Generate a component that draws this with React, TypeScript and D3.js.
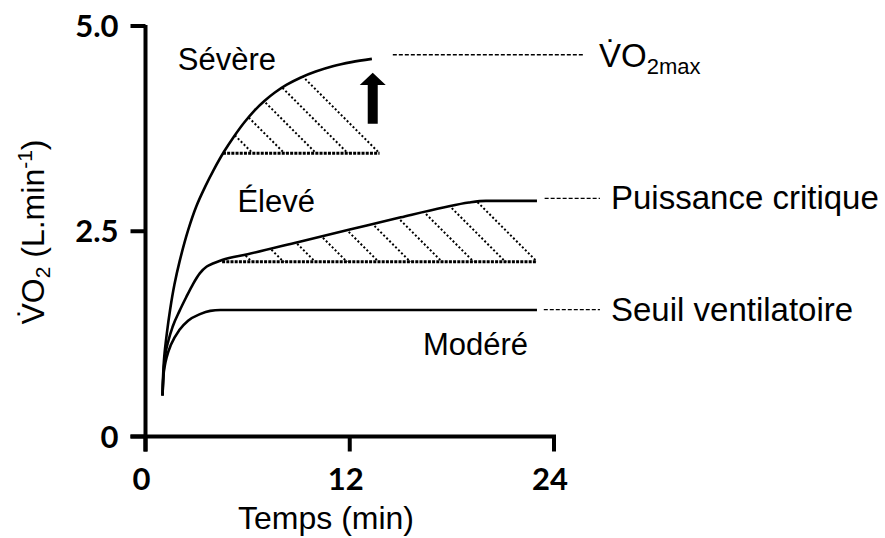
import React from 'react';
import * as d3 from 'd3';

const W = 885;
const H = 538;

const xTicks = [0, 12, 24];
const yTicks = [0, 2.5, 5];
const yTickLabels = ['0', '2.5', '5.0'];

// [time (min), VO2 (L/min)]
const moderateCurve: [number, number][] = [
  [1, 0.5], [1.05, 0.72], [1.15, 0.88], [1.25, 0.97], [1.5, 1.12], [2, 1.3], [2.5, 1.41],
  [3.2, 1.49], [3.8, 1.53], [4.4, 1.54], [23, 1.54],
];
const heavyCurve: [number, number][] = [
  [1, 0.5], [1.05, 0.75], [1.15, 0.97], [1.35, 1.17], [1.6, 1.34], [2, 1.53], [2.4, 1.7],
  [2.8, 1.86], [3.2, 1.99], [3.6, 2.07], [4.0, 2.11], [4.5, 2.15], [6, 2.22], [9, 2.37],
  [12, 2.52], [15, 2.67], [17.5, 2.79], [19, 2.85], [20, 2.87], [23, 2.87],
];
const severeCurve: [number, number][] = [
  [1, 0.5], [1.03, 0.72], [1.1, 0.97], [1.25, 1.25], [1.45, 1.55], [1.7, 1.85], [2.0, 2.13],
  [2.5, 2.51], [3.0, 2.81], [3.5, 3.04], [4.0, 3.245], [4.6, 3.465], [5.2, 3.655],
  [5.8, 3.825], [6.4, 3.97], [7.0, 4.09], [7.6, 4.19], [8.3, 4.285], [9.1, 4.37],
  [10.0, 4.445], [11.0, 4.51], [12.1, 4.56], [13.3, 4.6],
];

// shaded (slow component) regions: baseline value, start / end times
const severeBase = 3.45;
const severeRegion = [4.55, 13.3, 13.75]; // start, curve end, baseline end
const heavyBase = 2.13;
const heavyRegion = [4.5, 23, 23];

// arrow: time, from value, head base value, tip value
const arrowT = 13.35;
const arrowV = [3.81, 4.28, 4.43];

// reference lines: [value, t start, t end]
const refLines: [number, number, number][] = [
  [4.65, 14.53, 25.8],
  [2.9, 23.45, 26.7],
  [1.545, 23.4, 26.7],
];

const zoneLabels = ['Sévère', 'Élevé', 'Modéré'];
const zonePos: [number, number][] = [[1.9, 4.46], [5.4, 2.73], [16.3, 0.99]];
const refLabels = ['Puissance critique', 'Seuil ventilatoire'];

const x = d3.scaleLinear().domain([0, 24]).range([145.5, 554]);
const y = d3.scaleLinear().domain([0, 5]).range([436.5, 26]);

const line = d3
  .line<[number, number]>()
  .x((d) => x(d[0]))
  .y((d) => y(d[1]))
  .curve(d3.curveMonotoneX);

const smoothLine = d3
  .line<[number, number]>()
  .x((d) => x(d[0]))
  .y((d) => y(d[1]))
  .curve(d3.curveCatmullRom.alpha(0.5));

function hatchLines(ax: number, ay: number, spacing: number, n: number) {
  const out: string[] = [];
  for (let k = 0; k < n; k++) {
    const cx = ax - k * spacing;
    out.push(`M${cx - 300},${ay - 300}L${cx + 50},${ay + 50}`);
  }
  return out;
}

export default function App() {
  const sevPath =
    smoothLine(severeCurve) +
    `L${x(severeRegion[2])},${y(severeBase)}L${x(0)},${y(severeBase)}Z`;
  const heavyPath =
    line(heavyCurve) +
    `L${x(heavyRegion[2])},${y(heavyBase)}L${x(0)},${y(heavyBase)}Z`;

  const annFont = "'Liberation Sans', Arial, sans-serif";
  const tickFont = "Lato, 'Open Sans', sans-serif";
  const ax = x(arrowT);

  return (
    <svg
      width={W}
      height={H}
      style={{ position: 'absolute', left: 0, top: 0, background: '#fff' }}
    >
      <defs>
        <clipPath id="sevArea">
          <path d={sevPath} />
        </clipPath>
        <clipPath id="sevRect">
          <rect x={x(severeRegion[0])} y={0} width={x(severeRegion[2]) - x(severeRegion[0])} height={y(severeBase)} />
        </clipPath>
        <clipPath id="heavyArea">
          <path d={heavyPath} />
        </clipPath>
        <clipPath id="heavyRect">
          <rect x={x(heavyRegion[0])} y={0} width={x(heavyRegion[2]) - x(heavyRegion[0])} height={y(heavyBase)} />
        </clipPath>
      </defs>

      {/* hatching */}
      <g clipPath="url(#sevRect)">
        <g clipPath="url(#sevArea)">
          {hatchLines(x(severeRegion[2]), y(severeBase), 31.7, 10).map((d, i) => (
            <path key={i} d={d} stroke="#000" strokeWidth={2} strokeDasharray="2 2.2" fill="none" />
          ))}
        </g>
      </g>
      <g clipPath="url(#heavyRect)">
        <g clipPath="url(#heavyArea)">
          {hatchLines(x(heavyRegion[2]), y(heavyBase), 31.7, 14).map((d, i) => (
            <path key={i} d={d} stroke="#000" strokeWidth={2} strokeDasharray="2 2.2" fill="none" />
          ))}
        </g>
      </g>
      {/* dotted baselines */}
      <line x1={x(severeRegion[0])} x2={x(severeRegion[2])} y1={y(severeBase)} y2={y(severeBase)}
        stroke="#000" strokeWidth={3} strokeDasharray="3 1.2" />
      <line x1={x(heavyRegion[0])} x2={x(heavyRegion[2])} y1={y(heavyBase)} y2={y(heavyBase)}
        stroke="#000" strokeWidth={3} strokeDasharray="3 1.2" />

      {/* curves */}
      <path d={line(moderateCurve) || ''} fill="none" stroke="#000" strokeWidth={2.6} />
      <path d={line(heavyCurve) || ''} fill="none" stroke="#000" strokeWidth={2.6} />
      <path d={smoothLine(severeCurve) || ''} fill="none" stroke="#000" strokeWidth={2.6} />

      {/* arrow */}
      <path
        d={`M${ax - 5},${y(arrowV[0])}L${ax + 5},${y(arrowV[0])}L${ax + 5},${y(arrowV[1])}L${ax + 13},${y(arrowV[1])}L${ax},${y(arrowV[2])}L${ax - 13},${y(arrowV[1])}L${ax - 5},${y(arrowV[1])}Z`}
        fill="#000"
      />

      {/* reference dashed lines */}
      {refLines.map(([v, t0, t1], i) => (
        <line key={i} x1={x(t0)} x2={x(t1)} y1={y(v)} y2={y(v)} stroke="#000" strokeWidth={1.3} strokeDasharray="4 2" />
      ))}

      {/* axes */}
      <line x1={x(0)} x2={x(0)} y1={y(5) - 1} y2={y(0) + 15} stroke="#000" strokeWidth={4} />
      <line x1={x(0) - 15} x2={x(24) + 2} y1={y(0)} y2={y(0)} stroke="#000" strokeWidth={4} />
      {yTicks.map((t) => (
        <line key={t} x1={x(0) - 15} x2={x(0)} y1={y(t)} y2={y(t)} stroke="#000" strokeWidth={4} />
      ))}
      {xTicks.map((t) => (
        <line key={t} x1={x(t)} x2={x(t)} y1={y(0)} y2={y(0) + 15} stroke="#000" strokeWidth={4} />
      ))}
      {yTicks.map((t, i) => (
        <text key={t} x={x(0) - 27} y={y(t)} dy="0.36em" textAnchor="end" fontFamily={tickFont}
          fontWeight="bold" fontSize={31}>{yTickLabels[i]}</text>
      ))}
      {xTicks.map((t) => (
        <text key={t} x={x(t) - 4} y={490} textAnchor="middle" fontFamily={tickFont}
          fontWeight="bold" fontSize={31}>{t}</text>
      ))}

      {/* axis titles */}
      <text x={326} y={529} textAnchor="middle" fontFamily={annFont} fontSize={32}>Temps (min)</text>
      <g transform="translate(44,232) rotate(-90)">
        <text textAnchor="middle" fontFamily={annFont} fontSize={32}>
          {'V\u0307O'}
          <tspan fontSize={21} dy={6}>2</tspan>
          <tspan dy={-6}>{' (L.min'}</tspan>
          <tspan fontSize={21} dy={-12}>-1</tspan>
          <tspan dy={12}>)</tspan>
        </text>
      </g>

      {/* zone labels */}
      {zoneLabels.map((l, i) => (
        <text key={l} x={x(zonePos[i][0])} y={y(zonePos[i][1])} fontFamily={annFont} fontSize={31}>{l}</text>
      ))}

      {/* reference labels */}
      <text x={599} y={67} fontFamily={annFont} fontSize={33}>
        {'V\u0307O'}
        <tspan fontSize={22} dy={7}>2max</tspan>
      </text>
      {refLabels.map((l, i) => (
        <text key={l} x={611} y={y(refLines[i + 1][0]) + 11} fontFamily={annFont} fontSize={33}>{l}</text>
      ))}
    </svg>
  );
}
